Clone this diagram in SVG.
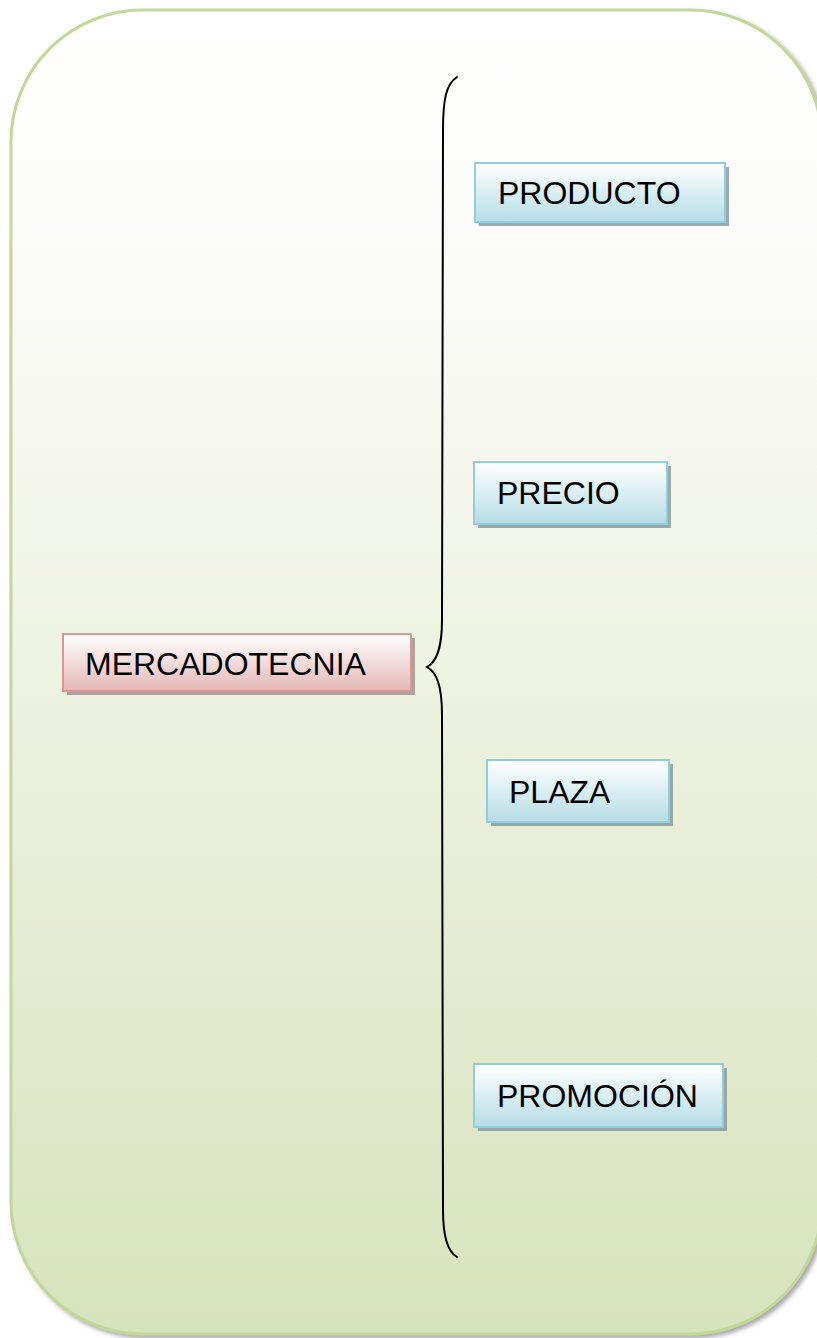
<svg xmlns="http://www.w3.org/2000/svg" width="817" height="1338" viewBox="0 0 817 1338">
  <defs>
    <linearGradient id="bgGrad" x1="0" y1="0" x2="0" y2="1">
      <stop offset="0" stop-color="#ffffff"/>
      <stop offset="0.2" stop-color="#fbfbf8"/>
      <stop offset="1" stop-color="#d7e3bc"/>
    </linearGradient>
    <linearGradient id="blueGrad" x1="0" y1="0" x2="0" y2="1">
      <stop offset="0" stop-color="#ffffff"/>
      <stop offset="1" stop-color="#b6dce6"/>
    </linearGradient>
    <linearGradient id="pinkGrad" x1="0" y1="0" x2="0" y2="1">
      <stop offset="0" stop-color="#ffffff"/>
      <stop offset="1" stop-color="#e5b8b7"/>
    </linearGradient>
    <filter id="outerShadow" x="-5%" y="-5%" width="110%" height="110%">
      <feDropShadow dx="3" dy="3" stdDeviation="2" flood-color="#6f6f6f" flood-opacity="0.6"/>
    </filter>
  </defs>
  <style>
    .outer { fill: url(#bgGrad); stroke: #c3d69b; stroke-width: 3; }
    .shadow { fill: #8a9b9e; opacity: 0.85; }
    .pshadow { fill: #a08c8c; opacity: 0.8; }
    .blue { fill: url(#blueGrad); stroke: #93cddd; stroke-width: 2; }
    .pink { fill: url(#pinkGrad); stroke: #d99694; stroke-width: 2; }
    .label { font-family: "Liberation Sans", Arial, sans-serif; font-size: 32px; fill: #000000; }
    .brace { fill: none; stroke: #000000; stroke-width: 2; stroke-linecap: round; }
  </style>

  <g id="background">
    <rect class="outer" x="11" y="10" width="811" height="1324" rx="132" ry="132" filter="url(#outerShadow)"/>
  </g>

  <g id="connectors">
    <path class="brace" d="M457,77 C446,84 443,100 443,130 L442,620 C442,650 436,662 427,667 C436,672 442,684 442,715 L443,1210 C443,1235 448,1252 457,1257"/>
  </g>

  <g id="node-mercadotecnia">
    <rect class="pshadow" x="67" y="638" width="348" height="57"/>
    <rect class="pink" x="63" y="634" width="348" height="57"/>
    <text class="label" x="85" y="675">MERCADOTECNIA</text>
  </g>

  <g id="node-producto">
    <rect class="shadow" x="479" y="167" width="250" height="59"/>
    <rect class="blue" x="475" y="163" width="250" height="59"/>
    <text class="label" x="498" y="204">PRODUCTO</text>
  </g>

  <g id="node-precio">
    <rect class="shadow" x="478" y="466" width="193" height="62"/>
    <rect class="blue" x="474" y="462" width="193" height="62"/>
    <text class="label" x="497" y="504">PRECIO</text>
  </g>

  <g id="node-plaza">
    <rect class="shadow" x="491" y="764" width="182" height="62"/>
    <rect class="blue" x="487" y="760" width="182" height="62"/>
    <text class="label" x="509" y="803">PLAZA</text>
  </g>

  <g id="node-promocion">
    <rect class="shadow" x="478" y="1068" width="249" height="63"/>
    <rect class="blue" x="474" y="1064" width="249" height="63"/>
    <text class="label" x="497" y="1107">PROMOCIÓN</text>
  </g>
</svg>
